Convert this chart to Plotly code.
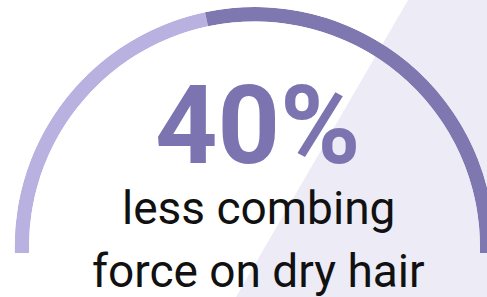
import math
import plotly.graph_objects as go

# ---- data ----
segment_names = ["highlight", "remainder"]
segment_share = [43.5, 56.5]          # share of the arc, percent
segment_colors = ["#B9B2E1", "#7F78B0"]
headline = "40%"
caption_lines = ["less combing", "force on dry hair"]

# ---- geometry (pixels) ----
W, H = 495, 297
cx, cy, R = 254.5, 247.0, 240.0
ext = 1.5                      # degrees the arc dips below horizontal
inner = 225.5
start, end = 180 + ext, -ext
span = start - end

bottom_px = cy + R * math.sin(math.radians(ext))

thetas, widths = [], []
pos = start
for s in segment_share:
    w = span * s / 100.0
    thetas.append(pos - w / 2)
    widths.append(w)
    pos -= w

fig = go.Figure()
fig.add_trace(go.Barpolar(
    r=[1] * len(segment_share),
    theta=thetas,
    width=widths,
    marker=dict(color=segment_colors, line=dict(width=0)),
    text=segment_names,
    hoverinfo="text",
    showlegend=False,
))

fig.update_layout(
    width=W, height=H,
    margin=dict(l=0, r=0, t=0, b=0),
    paper_bgcolor="white",
    plot_bgcolor="rgba(0,0,0,0)",
    showlegend=False,
    polar=dict(
        sector=[end, start],
        hole=inner / R,
        bgcolor="rgba(0,0,0,0)",
        domain=dict(x=[(cx - R) / W, (cx + R) / W],
                    y=[(H - bottom_px) / H, (H - (cy - R)) / H]),
        radialaxis=dict(visible=False, range=[0, 1]),
        angularaxis=dict(visible=False, direction="counterclockwise", rotation=0),
    ),
    shapes=[dict(
        type="path", xref="paper", yref="paper", layer="below",
        path=f"M {408/W} 1 L {236/W} 0 L 1 0 L 1 1 Z",
        fillcolor="#EDEBF5", line=dict(width=0),
    )],
    annotations=[
        dict(text=headline, x=257.5 / W, y=1 - 126.0 / H, xref="paper", yref="paper",
             showarrow=False, xanchor="center", yanchor="middle",
             font=dict(family="Roboto", size=109, color="#7C74B0", weight=700)),
        dict(text=caption_lines[0], x=258 / W, y=1 - 207.5 / H, xref="paper", yref="paper",
             showarrow=False, xanchor="center", yanchor="middle",
             font=dict(family="Roboto", size=46, color="#111111")),
        dict(text=caption_lines[1], x=258.5 / W, y=1 - 270.5 / H, xref="paper", yref="paper",
             showarrow=False, xanchor="center", yanchor="middle",
             font=dict(family="Roboto", size=46, color="#111111")),
    ],
)

fig.write_html(
    "out.html",
    config={"displayModeBar": False},
    post_script="document.body.style.margin='0';document.body.style.overflow='hidden';document.documentElement.style.overflow='hidden';",
)
